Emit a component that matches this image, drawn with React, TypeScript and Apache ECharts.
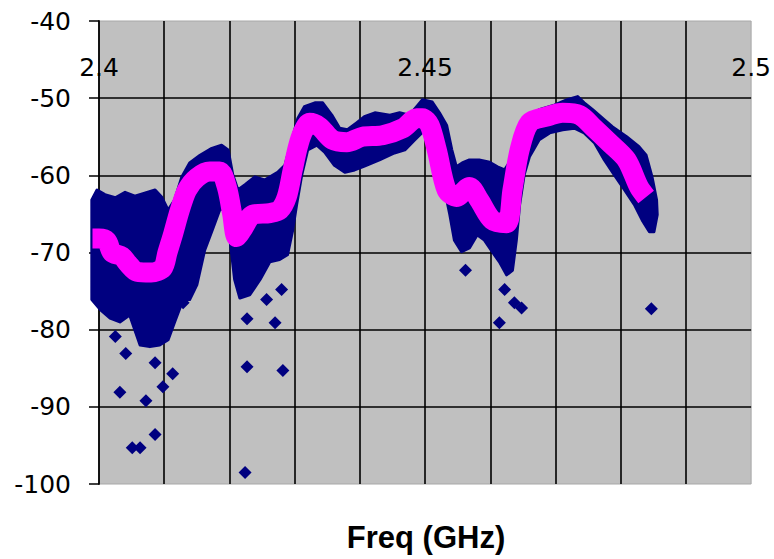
import React, { useEffect, useRef } from "react";
import * as echarts from "echarts";

// Frequency (GHz) / level (dB) values
const magentaTrace: [number, number][] = [
  [2.399, -68.2], [2.4, -68.2], [2.4012, -68.5], [2.402, -70.0], [2.4035, -70.5],
  [2.4045, -71.5], [2.4058, -72.5], [2.408, -72.6], [2.4098, -72.0], [2.4105, -70.0],
  [2.4114, -67.5], [2.4124, -64.5], [2.4135, -61.9], [2.415, -60.3], [2.417, -59.5],
  [2.4185, -59.5], [2.4196, -61.5], [2.4204, -64.9], [2.4211, -68.0], [2.422, -67.0],
  [2.4236, -65.1], [2.4262, -64.9], [2.4277, -64.5], [2.4288, -62.8], [2.4297, -59.3],
  [2.4305, -56.3], [2.4312, -54.5], [2.4323, -53.2], [2.4338, -53.7], [2.4358, -55.4],
  [2.438, -55.7], [2.4404, -55.0], [2.4435, -54.8], [2.4466, -53.9], [2.4487, -52.6],
  [2.4496, -52.6], [2.4507, -53.5], [2.4518, -56.7], [2.4533, -61.9], [2.4548, -62.8],
  [2.4568, -61.5], [2.4583, -63.2], [2.4603, -65.8], [2.4625, -66.2], [2.4634, -61.9],
  [2.4645, -56.7], [2.466, -53.2], [2.4686, -52.4], [2.4711, -51.9], [2.4737, -52.2],
  [2.4757, -53.7], [2.4783, -55.8], [2.4809, -58.0], [2.4828, -61.5], [2.4839, -62.8],
];

const cloudUpper: [number, number][] = [
  [2.3989, -63.2], [2.3997, -61.9], [2.4009, -62.5], [2.4025, -62.9], [2.404, -62.2],
  [2.4055, -62.7], [2.407, -62.3], [2.4086, -61.9], [2.4096, -62.8], [2.4106, -64.5],
  [2.4116, -63.2], [2.4127, -60.2], [2.4139, -58.4], [2.4155, -57.4], [2.4173, -56.5],
  [2.4188, -56.1], [2.4198, -56.7], [2.4205, -59.9], [2.4213, -61.9], [2.4224, -61.2],
  [2.4239, -60.2], [2.4254, -60.6], [2.4274, -59.6], [2.4285, -58.7], [2.4296, -55.4],
  [2.4305, -52.6], [2.4315, -51.1], [2.4331, -50.6], [2.4343, -50.6], [2.4357, -52.2],
  [2.4369, -53.9], [2.4381, -54.1], [2.4395, -53.2], [2.4407, -52.4], [2.4423, -51.9],
  [2.4446, -52.2], [2.4461, -51.9], [2.4476, -52.2], [2.4489, -50.9], [2.4496, -50.2],
  [2.4511, -50.5], [2.4522, -51.9], [2.4533, -53.5], [2.4541, -56.7], [2.4548, -58.9],
  [2.4557, -58.4], [2.4568, -58.0], [2.4583, -58.0], [2.4599, -58.3], [2.4611, -58.9],
  [2.4622, -59.3], [2.4632, -58.0], [2.464, -55.4], [2.4648, -53.5], [2.4655, -52.4],
  [2.4675, -51.5], [2.4698, -50.9], [2.4718, -50.2], [2.4734, -49.8], [2.4744, -50.6],
  [2.4757, -51.5], [2.4775, -52.8], [2.4787, -53.7], [2.4809, -55.0], [2.4828, -56.3],
  [2.4839, -57.4], [2.4848, -60.2], [2.4855, -63.2], [2.4856, -65.1],
];

const cloudLower: [number, number][] = [
  [2.3989, -76.1], [2.4002, -77.4], [2.4017, -78.5], [2.4032, -79.0], [2.4047, -78.1],
  [2.4063, -82.0], [2.4078, -82.2], [2.4093, -82.0], [2.4106, -81.3], [2.4116, -79.0],
  [2.4129, -76.1], [2.4139, -76.1], [2.415, -74.2], [2.4162, -69.7], [2.4175, -66.8],
  [2.4185, -64.5], [2.4193, -64.2], [2.4201, -68.4], [2.4208, -73.5], [2.4216, -75.9],
  [2.4231, -75.5], [2.4247, -73.5], [2.4262, -71.2], [2.4277, -70.9], [2.4289, -70.3],
  [2.4297, -67.1], [2.4303, -63.8], [2.4311, -59.9], [2.432, -56.7], [2.4334, -56.1],
  [2.4346, -57.0], [2.4361, -58.7], [2.4377, -59.6], [2.4392, -59.3], [2.4407, -58.8],
  [2.443, -58.0], [2.4453, -57.1], [2.4469, -56.7], [2.4484, -55.4], [2.4496, -54.4],
  [2.4507, -54.8], [2.4518, -56.7], [2.4527, -60.6], [2.4538, -65.1], [2.4545, -68.4],
  [2.4556, -69.9], [2.4568, -69.4], [2.458, -67.7], [2.4591, -68.4], [2.4603, -69.9],
  [2.4614, -71.2], [2.4625, -72.9], [2.4634, -72.3], [2.464, -68.4], [2.4645, -63.8],
  [2.4652, -59.9], [2.466, -57.6], [2.4675, -55.4], [2.4691, -54.5], [2.4711, -54.1],
  [2.4729, -53.9], [2.4744, -54.5], [2.476, -55.8], [2.4775, -58.0], [2.479, -59.9],
  [2.4806, -61.9], [2.4821, -63.8], [2.4833, -65.8], [2.4844, -67.3], [2.4851, -67.3],
  [2.4856, -65.1],
];

const outliers: [number, number][] = [
  [2.4025, -80.9], [2.4041, -83.1], [2.4086, -84.3], [2.4113, -85.7], [2.4098, -87.4],
  [2.4032, -88.1], [2.4072, -89.2], [2.4086, -93.6], [2.4051, -95.3], [2.4063, -95.3],
  [2.4224, -98.5], [2.4227, -84.8], [2.4282, -85.3], [2.4227, -78.6], [2.427, -79.1],
  [2.4257, -76.1], [2.428, -74.8], [2.4129, -76.5], [2.4562, -72.3], [2.4622, -74.8],
  [2.4637, -76.5], [2.4648, -77.2], [2.4614, -79.1], [2.4847, -77.3],
];

const xLabelValues = [2.4, 2.45, 2.5];
const xLabelTexts = ["2.4", "2.45", "2.5"];
const axisTitle = "Freq (GHz)";

export default function App() {
  const ref = useRef<HTMLDivElement>(null);
  useEffect(() => {
    if (!ref.current) return;
    const chart = echarts.init(ref.current, null, { renderer: "svg" });
    chart.setOption({
      animation: false,
      backgroundColor: "#ffffff",
      grid: {
        left: 99,
        right: 22,
        top: 21,
        bottom: 75,
        show: true,
        backgroundColor: "#c0c0c0",
        borderColor: "#a8a8a8",
        borderWidth: 1,
      },
      xAxis: {
        type: "value",
        position: "top",
        min: 2.4,
        max: 2.5,
        interval: 0.01,
        axisLine: { show: false },
        axisTick: { show: false },
        axisLabel: {
          inside: true,
          margin: 46,
          verticalAlign: "middle",
          color: "#000",
          fontFamily: "DejaVu Sans",
          fontSize: 25,
          showMinLabel: true,
          showMaxLabel: true,
          formatter: (v: number) => {
            const i = xLabelValues.findIndex((x) => Math.abs(x - v) < 1e-6);
            return i >= 0 ? xLabelTexts[i] : "";
          },
        },
        splitLine: {
          show: true,
          showMinLine: false,
          showMaxLine: false,
          lineStyle: { color: "#000", width: 1.6 },
        },
      },
      yAxis: {
        type: "value",
        min: -100,
        max: -40,
        interval: 10,
        axisLine: { show: true, lineStyle: { color: "#000", width: 1.8 } },
        axisTick: { show: true, inside: false, length: 10, lineStyle: { color: "#000", width: 1.5 } },
        axisLabel: {
          margin: 28,
          color: "#000",
          fontFamily: "DejaVu Sans",
          fontSize: 25,
        },
        splitLine: {
          show: true,
          showMinLine: false,
          showMaxLine: false,
          lineStyle: { color: "#000", width: 1.6 },
        },
      },
      graphic: [
        {
          type: "text",
          x: 426,
          y: 537,
          style: {
            text: axisTitle,
            fontFamily: "Liberation Sans, Arial",
            fontWeight: "bold",
            fontSize: 31,
            fill: "#000",
            textAlign: "center",
            textVerticalAlign: "middle",
          },
        },
      ],
      series: [
        {
          type: "custom",
          clip: false,
          z: 2,
          data: [[2.45, -60]],
          renderItem: (params: any, api: any) => {
            if (params.dataIndex !== 0) return null;
            const pts = cloudUpper
              .map((p) => api.coord(p))
              .concat(cloudLower.slice().reverse().map((p) => api.coord(p)));
            return {
              type: "polygon",
              shape: { points: pts },
              style: { fill: "#000080", stroke: "#000080", lineWidth: 3, lineJoin: "round" },
            };
          },
        },
        {
          type: "scatter",
          clip: false,
          z: 3,
          symbol: "diamond",
          symbolSize: 13,
          itemStyle: { color: "#000080", opacity: 1 },
          data: outliers,
        },
        {
          type: "line",
          clip: false,
          z: 4,
          smooth: 0.3,
          showSymbol: false,
          symbol: "none",
          lineStyle: { color: "#ff00ff", width: 20, cap: "butt", join: "round" },
          data: magentaTrace,
        },
      ],
    });
    return () => chart.dispose();
  }, []);
  return (
    <div
      ref={ref}
      style={{ position: "fixed", left: 0, top: 0, width: 774, height: 559 }}
    />
  );
}
